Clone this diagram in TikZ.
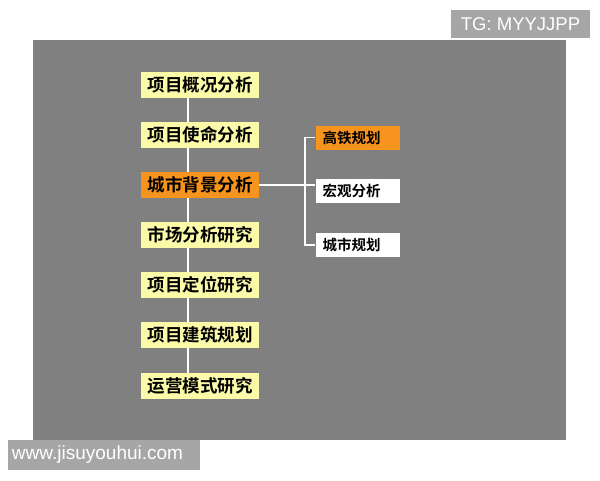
\documentclass[tikz,border=0pt]{standalone}
\usepackage{fontspec}
\newfontfamily\cjk{Noto Sans CJK SC}[BoldFont={Noto Sans CJK SC Bold}]
\setmainfont{Liberation Sans}
\definecolor{bgray}{HTML}{808080}
\definecolor{wgray}{HTML}{A6A6A6}
\definecolor{ylw}{HTML}{FAFAA8}
\definecolor{org}{HTML}{F7941D}
\begin{document}
\begin{tikzpicture}[x=1pt,y=-1pt,
  mainbox/.style={minimum width=118pt,minimum height=26pt,inner sep=0pt,font=\cjk\bfseries\fontsize{17.5}{18}\selectfont,text=black},
  subbox/.style={minimum width=84pt,minimum height=24pt,inner sep=0pt,text width=70pt,align=left,font=\cjk\bfseries\fontsize{14.5}{15}\selectfont,text=black},
  link/.style={draw=white,line width=1.5pt},
  wmark/.style={fill=wgray,inner sep=0pt,text=white}]
\useasboundingbox (0,0) rectangle (600,480);
\fill[white] (0,0) rectangle (600,480);
\fill[bgray] (33,40) rectangle (566,440);
\node[wmark,minimum width=139pt,minimum height=28pt,font=\fontsize{18.5}{19}\selectfont] (tg) at (520.5,24) {TG: MYYJJPP};
\node[wmark,minimum width=192pt,minimum height=30pt,text width=184pt,align=left,font=\fontsize{19}{20}\selectfont] (www) at (104,455) {www.jisuyouhui.com};
% vertical trunk
\coordinate (top) at (188,85);
\coordinate (bot) at (188,386);
\draw[link] (top) -- (bot);
\node[mainbox,fill=ylw] (a1) at (200,85) {项目概况分析};
\node[mainbox,fill=ylw] (a2) at (200,135) {项目使命分析};
\node[mainbox,fill=org] (a3) at (200,185) {城市背景分析};
\node[mainbox,fill=ylw] (a4) at (200,235) {市场分析研究};
\node[mainbox,fill=ylw] (a5) at (200,285) {项目定位研究};
\node[mainbox,fill=ylw] (a6) at (200,335) {项目建筑规划};
\node[mainbox,fill=ylw] (a7) at (200,386) {运营模式研究};
\node[subbox,fill=org] (b1) at (357.5,137.5) {高铁规划};
\node[subbox,fill=white] (b2) at (357.5,191) {宏观分析};
\node[subbox,fill=white] (b3) at (357.5,245) {城市规划};
\coordinate (j1) at (305,137.5);
\coordinate (j3) at (305,245);
\draw[link] (a3.east) -- (b2.west |- a3.east);
\draw[link] (b1.west) -- (j1) -- (j3) -- (b3.west);
\end{tikzpicture}
\end{document}
